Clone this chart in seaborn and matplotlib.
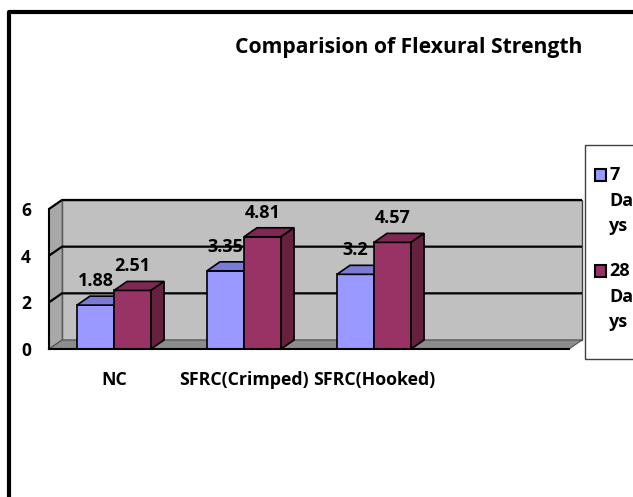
import matplotlib
matplotlib.use("Agg")
import matplotlib.pyplot as plt
from matplotlib.patches import Polygon, Rectangle
import seaborn as sns
import pandas as pd

# Flexural strength (MPa) per mix and curing age
categories = ["NC", "SFRC(Crimped)", "SFRC(Hooked)"]
series = ["7 Days", "28 Days"]
days7 = [1.88, 3.35, 3.2]
days28 = [2.51, 4.81, 4.57]
legend_lines = ["7\nDa\nys", "28\nDa\nys"]
y_ticks = [0, 2, 4, 6]
title = "Comparision of Flexural Strength"

front_colors = ["#9999FF", "#993366"]
top_colors = ["#7B7BD6", "#7E2853"]
side_colors = ["#6666B3", "#66213F"]

sns.set_theme(style="white")
plt.rcParams["font.family"] = ["Open Sans", "DejaVu Sans"]
plt.rcParams["font.weight"] = "bold"
for key in ["text.color", "axes.labelcolor", "xtick.color", "ytick.color"]:
    plt.rcParams[key] = "black"

W, H, DPI = 633, 497, 100
fig = plt.figure(figsize=(W / DPI, H / DPI), dpi=DPI)

# front face of the plot area in pixel coordinates
px_left, px_right, px_bottom, px_top = 49, 569, 349, 209
ax = fig.add_axes([px_left / W, 1 - px_bottom / H,
                   (px_right - px_left) / W, (px_bottom - px_top) / H])
ax.set_facecolor("none")

df = pd.DataFrame({
    "mix": categories * 2,
    "age": [series[0]] * 3 + [series[1]] * 3,
    "strength": days7 + days28,
})
sns.barplot(data=df, x="mix", y="strength", hue="age", order=categories,
            hue_order=series, palette=front_colors, width=0.57, ax=ax,
            edgecolor="black", linewidth=1.2, saturation=1, legend=False)

xmin, xmax, ymin, ymax = -0.5, 3.5, 0, 6
ax.set_xlim(xmin, xmax)
ax.set_ylim(ymin, ymax)

# depth offset of the 3-D look, converted to data units
depth_px = (13, 9)
dx = depth_px[0] * (xmax - xmin) / (px_right - px_left)
dy = depth_px[1] * (ymax - ymin) / (px_bottom - px_top)


def poly(pts, fc, z, ec="black", lw=1.0):
    p = Polygon(pts, closed=True, facecolor=fc, edgecolor=ec, linewidth=lw,
                zorder=z, clip_on=False)
    ax.add_patch(p)
    return p


# walls and floor
poly([(xmin + dx, ymin + dy), (xmax + dx, ymin + dy), (xmax + dx, ymax + dy),
      (xmin + dx, ymax + dy)], "#C0C0C0", 0.5, ec="#404040", lw=1.0)
poly([(xmin, ymin), (xmin + dx, ymin + dy), (xmin + dx, ymax + dy),
      (xmin, ymax)], "#A8A8A8", 0.6, ec="#707070", lw=0.8)
poly([(xmin, ymin), (xmax, ymin), (xmax + dx, ymin + dy),
      (xmin + dx, ymin + dy)], "#8C8C8C", 0.6, ec="#505050", lw=0.8)

# gridlines along side and back wall
for v in y_ticks[1:]:
    ax.plot([xmin, xmin + dx, xmax + dx], [v, v + dy, v + dy], color="black",
            lw=1.6, zorder=0.8, clip_on=False, solid_capstyle="butt")

# 3-D bar faces and value labels
n = len(categories)
bars = [p for p in ax.patches if isinstance(p, Rectangle)][: 2 * n]
for i, bar in enumerate(bars):
    s = i // n
    z = 3 + 2 * s
    bar.set_zorder(z)
    x0 = bar.get_x()
    x1 = x0 + bar.get_width()
    h = bar.get_height()
    poly([(x0, h), (x1, h), (x1 + dx, h + dy), (x0 + dx, h + dy)],
         top_colors[s], z, lw=1.2)
    poly([(x1, 0), (x1 + dx, dy), (x1 + dx, h + dy), (x1, h)],
         side_colors[s], z, lw=1.2)
    ax.annotate(f"{h:g}", xy=((x0 + x1) / 2, h), xytext=(0, 24),
                textcoords="offset pixels", ha="center", va="center",
                fontsize=13, fontweight="bold", color="black",
                zorder=z + 0.5, annotation_clip=False)

# axes styling
for side in ["top", "right"]:
    ax.spines[side].set_visible(False)
for side in ["left", "bottom"]:
    ax.spines[side].set_color("black")
    ax.spines[side].set_linewidth(1.5)
    ax.spines[side].set_zorder(6)
ax.set_yticks(y_ticks)
ax.set_yticklabels([str(t) for t in y_ticks])
ax.tick_params(axis="y", direction="out", length=5, width=1.5, color="black",
               pad=8, labelsize=12.5, labelcolor="black")
ax.set_xticks(range(n))
ax.set_xticklabels(categories)
ax.set_xticks([xmin + k for k in range(5)], minor=True)
ax.tick_params(axis="x", which="major", length=0, pad=16, labelsize=12.8,
               labelcolor="black")
ax.tick_params(axis="x", which="minor", direction="out", length=5, width=1.2,
               color="black")
for lab in ax.get_xticklabels() + ax.get_yticklabels():
    lab.set_fontweight("bold")
ax.set_xlabel("")
ax.set_ylabel("")

# title
fig.text(409 / W, 1 - 48 / H, title, ha="center", va="center", fontsize=15.2,
         fontweight="bold", color="black")

# chart frame (left and top edges)
fig.add_artist(plt.Line2D([9 / W, 9 / W, 1.02], [-0.02, 1 - 12 / H, 1 - 12 / H],
                          transform=fig.transFigure, color="black", lw=3))

# legend box with wrapped series names
fig.add_artist(Rectangle((585 / W, 1 - 359 / H), 80 / W, (359 - 145) / H,
                         transform=fig.transFigure, facecolor="white",
                         edgecolor="#404040", lw=1.0))
for k, (lab, col) in enumerate(zip(legend_lines, front_colors)):
    y0 = [175, 271][k]
    fig.add_artist(Rectangle((595 / W, 1 - (y0 + 6) / H), 11 / W, 12 / H,
                             transform=fig.transFigure, facecolor=col,
                             edgecolor="black", lw=1.5))
    for j, line in enumerate(lab.split("\n")):
        fig.text(609 / W, 1 - (y0 + j * 25.5) / H, line, ha="left",
                 va="center", fontsize=13, fontweight="bold", color="black")

fig.savefig("out.png", dpi=DPI)
